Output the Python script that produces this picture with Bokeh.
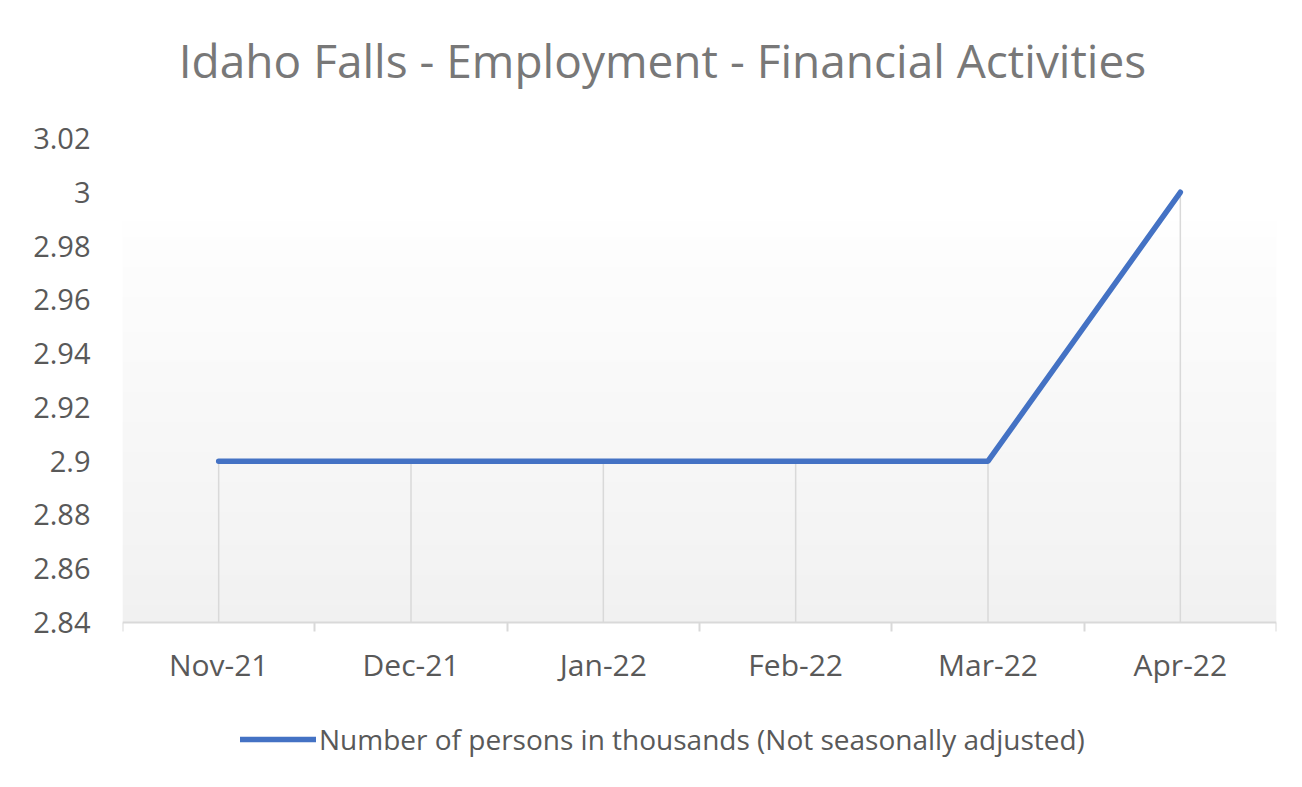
from bokeh.plotting import figure
from bokeh.models import (Range1d, FixedTicker, CustomJSTickFormatter, Label,
                          Legend, LegendItem, LinearAxis)
from bokeh.embed import file_html
from bokeh.resources import INLINE
import numpy as np

# ---- data ----
months = ["Nov-21", "Dec-21", "Jan-22", "Feb-22", "Mar-22", "Apr-22"]
values = [2.9, 2.9, 2.9, 2.9, 2.9, 3.0]
y_ticks = [2.84, 2.86, 2.88, 2.90, 2.92, 2.94, 2.96, 2.98, 3.00, 3.02]
title_text = "Idaho Falls - Employment - Financial Activities"
series_name = "Number of persons in thousands (Not seasonally adjusted)"

FONT = "Open Sans"
LABEL_COLOR = "#595959"
GRID = "#d9d9d9"

W, H = 1286, 771
LEFT, RIGHT = 122, 1276          # pixel columns of the x-axis ends
TOP, AXIS_Y = 138, 622           # pixel rows of the 3.02 tick and of the x axis
y_min, y_max = y_ticks[0], y_ticks[-1]
px_per_unit = (AXIS_Y - TOP) / (y_max - y_min)
# the frame spans the whole canvas height so that title and legend live inside it
y_bottom = y_min - (H - AXIS_Y) / px_per_unit
y_top = y_max + TOP / px_per_unit

p = figure(width=W, height=H, output_backend="svg", toolbar_location=None,
           x_range=Range1d(0, len(months)), y_range=Range1d(y_bottom, y_top),
           x_axis_location=None,
           min_border_left=LEFT, min_border_right=W - RIGHT,
           min_border_top=0, min_border_bottom=0)
p.background_fill_color = "white"
p.border_fill_color = "white"
p.outline_line_color = None
p.xgrid.grid_line_color = None
p.ygrid.grid_line_color = None

xs = [i + 0.5 for i in range(len(months))]

# plot-area gradient background (white -> light gray)
n = 120
top = np.array([254, 254, 254], dtype=float)
bot = np.array([241, 241, 241], dtype=float)
img = np.zeros((n, 2), dtype=np.uint32)
view = img.view(dtype=np.uint8).reshape((n, 2, 4))
for r in range(n):
    t = r / (n - 1)
    c = bot + (top - bot) * t
    view[r, :, 0] = int(round(c[0]))
    view[r, :, 1] = int(round(c[1]))
    view[r, :, 2] = int(round(c[2]))
    view[r, :, 3] = 255
p.image_rgba(image=[img], x=0, y=y_min, dw=len(months), dh=0.149)

# drop lines
p.segment(x0=xs, y0=[y_min] * len(xs), x1=xs, y1=values,
          line_color=GRID, line_width=1.5)

# series line
line_r = p.line(xs, values, line_color="#4472C4", line_width=5.5,
                line_cap="round", line_join="round")

# x axis, fixed at the 2.84 level
xaxis = LinearAxis(fixed_location=y_min)
xaxis.ticker = FixedTicker(ticks=xs, minor_ticks=list(range(len(months) + 1)))
xaxis.major_label_overrides = {x: m for x, m in zip(xs, months)}
xaxis.major_tick_out = 0
xaxis.major_tick_in = 0
xaxis.minor_tick_out = 9
xaxis.minor_tick_in = 0
xaxis.minor_tick_line_color = GRID
xaxis.minor_tick_line_width = 2
xaxis.axis_line_color = GRID
xaxis.axis_line_width = 2
xaxis.major_label_standoff = 12
xaxis.major_label_text_font = FONT
xaxis.major_label_text_font_size = "30px"
xaxis.major_label_text_color = LABEL_COLOR
p.add_layout(xaxis, "below")

# y axis
p.yaxis.ticker = FixedTicker(ticks=y_ticks)
p.yaxis.formatter = CustomJSTickFormatter(
    code="return parseFloat(tick.toFixed(2)).toString();")
p.yaxis.axis_line_color = None
p.yaxis.major_tick_line_color = None
p.yaxis.minor_tick_line_color = None
p.yaxis.major_label_standoff = 26
p.yaxis.major_label_text_font = FONT
p.yaxis.major_label_text_font_size = "29px"
p.yaxis.major_label_text_color = LABEL_COLOR

# title (centred over the whole chart)
title_x = (662 - LEFT) / ((RIGHT - LEFT) / len(months))
title_y = y_max + (TOP - 59) / px_per_unit
p.add_layout(Label(x=title_x, y=title_y, text=title_text, text_align="center",
                   text_baseline="alphabetic", text_font=FONT,
                   text_font_size="46px", text_color="#787878"))

# legend
legend = Legend(items=[LegendItem(label=series_name, renderers=[line_r])],
                location=(118, 13), orientation="horizontal",
                border_line_color=None, background_fill_alpha=0,
                padding=0, margin=0, glyph_width=76, glyph_height=26,
                label_height=26, label_standoff=3,
                label_text_font=FONT, label_text_font_size="28px",
                label_text_color=LABEL_COLOR)
p.add_layout(legend)

open("out.html", "w").write(file_html(p, INLINE))
